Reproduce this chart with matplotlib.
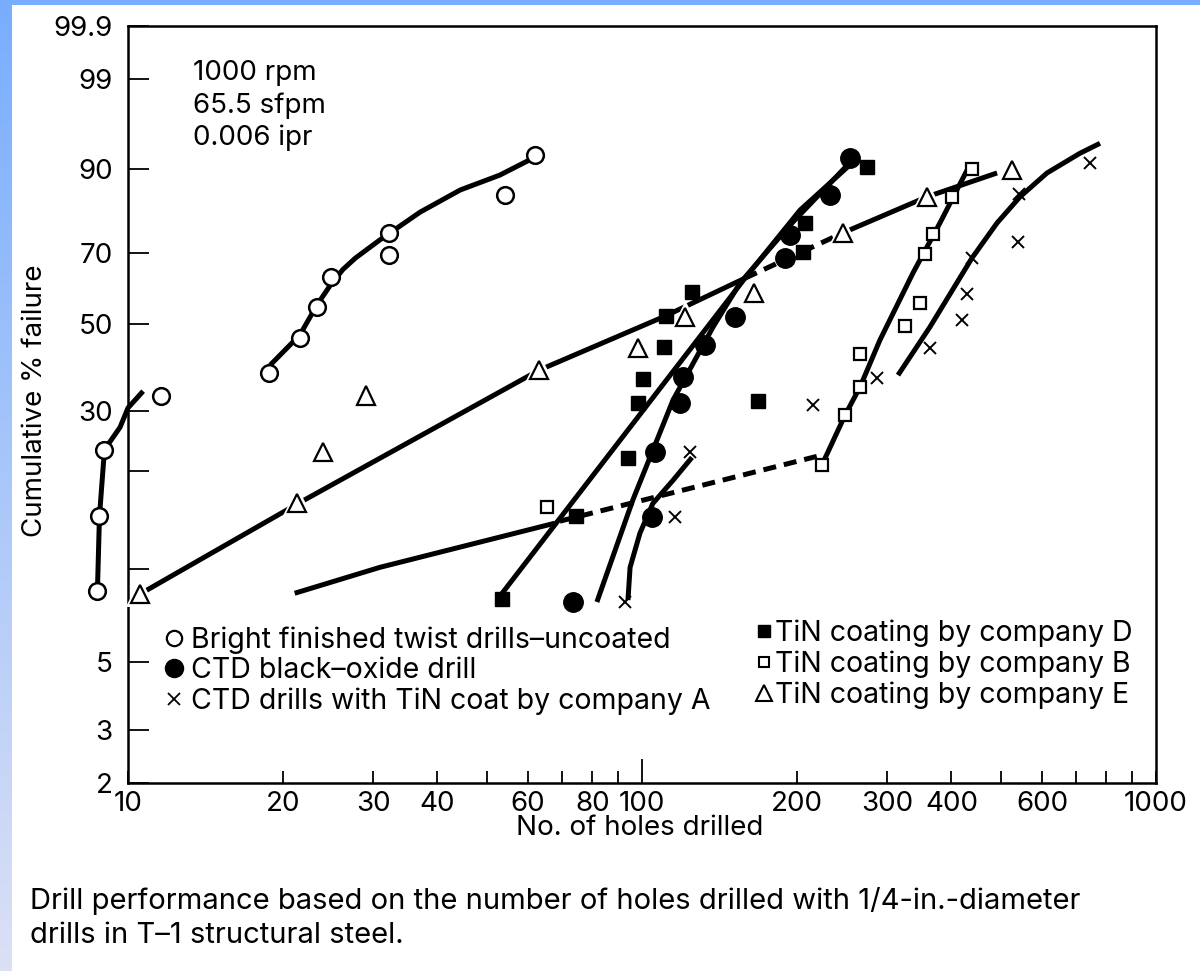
"""
Weibull probability plot of drill life: cumulative % failure against
number of holes drilled for six drill types.
"""

import numpy as np
import matplotlib
matplotlib.use("Agg")
import matplotlib.pyplot as plt
import matplotlib.patheffects as pe
from matplotlib.lines import Line2D
from matplotlib.ticker import FixedLocator, FixedFormatter, NullLocator

plt.rcParams["font.family"] = ["Inter", "DejaVu Sans"]
FS = 20

# ---------------------------------------------------------------------------
# data: holes drilled (x) and cumulative % failure (y)
# ---------------------------------------------------------------------------

# bright finished twist drills, uncoated (open circles)
bright_x = [8.72, 8.80, 9.0, 11.6, 18.8, 21.6, 23.3, 24.8, 32.2, 32.2, 54.1, 61.9]
bright_y = [8.5, 14.6, 23.2, 32.9, 38.0, 46.3, 54.8, 63.2, 75.3, 69.3, 84.7, 92.2]
bright_fit1_x = [8.72, 8.80, 9.0, 9.65, 10.0, 10.7]
bright_fit1_y = [8.5, 14.6, 23.2, 26.9, 30.5, 33.9]
bright_fit2_x = [18.9, 21.6, 23.3, 24.8, 26.2, 27.7, 30.9, 37.0, 44.3, 52.9, 61.9]
bright_fit2_y = [39.7, 47.2, 55.2, 61.0, 65.3, 68.5, 73.5, 80.7, 85.8, 88.8, 91.9]

# CTD black-oxide drill (filled circles)
oxide_x = [73.3, 104.4, 106.0, 118.6, 120.3, 132.6, 151.7, 189.8, 194.1, 232.2, 254.0]
oxide_y = [7.85, 14.5, 22.85, 31.5, 37.0, 44.6, 52.0, 68.4, 74.8, 84.7, 91.7]
oxide_fit_x = [81.7, 96.0, 105.0, 114.9, 137.5, 155.1, 194.1, 259.6]
oxide_fit_y = [7.83, 16.4, 23.1, 32.05, 49.3, 61.4, 77.45, 91.9]

# CTD drills with TiN coat by company A (x)
coA_x = [92.7, 116.0, 124.0, 215.4, 286.1, 363.3, 418.8, 428.2, 437.9, 539.7, 541.4, 744.0]
coA_y = [7.85, 14.5, 22.85, 31.05, 36.7, 43.8, 51.1, 58.3, 68.4, 73.0, 84.9, 90.9]
coA_fit1_x = [93.9, 94.8, 99.1, 105.0, 114.9, 125.1]
coA_fit1_y = [7.94, 10.1, 12.95, 16.0, 18.8, 22.0]
coA_fit2_x = [314.8, 363.3, 438.5, 490.7, 543.8, 613.8, 711.3, 778.2]
coA_fit2_y = [37.4, 49.3, 68.5, 78.0, 84.3, 89.2, 92.5, 93.9]

# TiN coating by company D (filled squares)
coD_x = [53.3, 74.4, 94.0, 98.1, 100.3, 110.5, 111.2, 124.9, 168.4, 206.0, 207.6, 273.6]
coD_y = [8.0, 14.6, 21.85, 31.4, 36.45, 44.2, 52.3, 59.0, 31.9, 70.25, 77.9, 90.3]
coD_fit_x = [52.2, 158.6, 203.0, 259.6]
coD_fit_y = [7.94, 62.8, 81.2, 91.4]

# TiN coating by company B (open squares)
coB_x = [65.3, 223.7, 248.4, 265.0, 265.6, 324.9, 347.4, 355.3, 368.7, 400.6, 437.9]
coB_y = [15.6, 20.9, 29.1, 34.7, 42.5, 49.5, 55.9, 69.6, 75.0, 84.3, 90.0]
coB_low_x = [21.1, 30.9, 67.7]
coB_low_y = [8.35, 10.1, 13.9]
coB_dash_x = [69.2, 220.0]
coB_dash_y = [14.1, 22.2]
coB_fit_x = [223.9, 248.3, 265.6, 290.4, 336.7, 379.9, 428.9]
coB_fit_y = [20.9, 29.1, 34.8, 45.9, 64.3, 78.0, 89.7]

# TiN coating by company E (open triangles)
coE_x = [10.55, 21.3, 24.0, 29.0, 63.1, 98.4, 121.2, 165.2, 246.4, 358.1, 524.0]
coE_y = [8.3, 16.0, 22.85, 33.0, 38.55, 43.8, 52.0, 58.5, 75.3, 84.3, 89.7]
coE_fit_x = [10.55, 21.6, 63.1, 110.9, 158.6]
coE_fit_y = [8.3, 16.1, 38.55, 52.2, 62.8]
coE_dash_x = [158.6, 246.0]
coE_dash_y = [62.8, 75.4]
coE_top_x = [246.0, 358.5, 490.7]
coE_top_y = [75.4, 84.3, 89.2]

x_ticks = [10, 20, 30, 40, 50, 60, 70, 80, 90, 100, 200, 300, 400, 500, 600, 700, 800, 900, 1000]
x_labels = {10: "10", 20: "20", 30: "30", 40: "40", 60: "60", 80: "80", 100: "100",
            200: "200", 300: "300", 400: "400", 600: "600", 1000: "1000"}
y_ticks = [2, 3, 5, 10, 20, 30, 50, 70, 90, 99, 99.9]
y_labels = {2: "2", 3: "3", 5: "5", 30: "30", 50: "50", 70: "70", 90: "90", 99: "99", 99.9: "99.9"}


def weibull(p):
    p = np.clip(np.asarray(p, dtype=float), 1e-6, 100 - 1e-6) / 100.0
    return np.log(-np.log(1.0 - p))


def weibull_inv(w):
    return 100.0 * (1.0 - np.exp(-np.exp(w)))


W, H = 1200, 971
fig = plt.figure(figsize=(W / 100, H / 100), dpi=100)

# slide frame: blue band on top, gradient strip on the left
strip = fig.add_axes([0, 0, 12 / W, 1])
grad = np.linspace(0, 1, 256)[:, None]
top_rgb = np.array([0.47, 0.68, 1.0])
bot_rgb = np.array([0.86, 0.88, 0.96])
strip.imshow(top_rgb + grad[..., None] * (bot_rgb - top_rgb), aspect="auto",
             extent=(0, 1, 0, 1))
strip.set_axis_off()
band = fig.add_axes([0, 1 - 5 / H, 1, 5 / H])
band.set_facecolor(top_rgb)
band.set_xticks([])
band.set_yticks([])
for s in band.spines.values():
    s.set_visible(False)

ax = fig.add_axes([128 / W, 1 - 783 / H, (1156 - 128) / W, (783 - 26) / H])
ax.set_xscale("log")
ax.set_yscale("function", functions=(weibull, weibull_inv))
ax.set_xlim(10, 1000)
ax.set_ylim(2, 99.9)

LW = 3.6
line_kw = dict(color="black", lw=LW, solid_capstyle="butt", solid_joinstyle="round", zorder=2)
dash_kw = dict(color="black", lw=LW, linestyle=(0, (2.6, 1.6)), dash_capstyle="butt", zorder=2)
halo = [pe.withStroke(linewidth=5, foreground="white")]

# fitted curves
ax.plot(bright_fit1_x, bright_fit1_y, clip_on=False, **line_kw)
ax.plot(bright_fit2_x, bright_fit2_y, **line_kw)
ax.plot(oxide_fit_x, oxide_fit_y, **line_kw)
ax.plot(coA_fit1_x, coA_fit1_y, **line_kw)
ax.plot(coA_fit2_x, coA_fit2_y, **line_kw)
ax.plot(coD_fit_x, coD_fit_y, **line_kw)
ax.plot(coB_low_x, coB_low_y, **line_kw)
ax.plot(coB_dash_x, coB_dash_y, **dash_kw)
ax.plot(coB_fit_x, coB_fit_y, **line_kw)
ax.plot(coE_fit_x, coE_fit_y, **line_kw)
ax.plot(coE_dash_x, coE_dash_y, **dash_kw)
ax.plot(coE_top_x, coE_top_y, **line_kw)

# data points
ax.plot(bright_x, bright_y, "o", ms=12, mfc="white", mec="black", mew=1.8,
        clip_on=False, zorder=4)
ax.plot(oxide_x, oxide_y, "o", ms=14, mfc="black", mec="black", zorder=4)
ax.plot(coA_x, coA_y, "x", ms=9, mec="black", mew=1.4, zorder=4)
ax.plot(coD_x, coD_y, "s", ms=10, mfc="black", mec="black", zorder=4)
ax.plot(coB_x, coB_y, "s", ms=9, mfc="white", mec="black", mew=1.6, zorder=4)
ax.plot(coE_x, coE_y, "^", ms=13, mfc="white", mec="black", mew=1.6,
        path_effects=halo, clip_on=False, zorder=4)

# axes styling
for s in ax.spines.values():
    s.set_linewidth(1.8)

ax.xaxis.set_major_locator(FixedLocator(x_ticks))
ax.xaxis.set_major_formatter(FixedFormatter([x_labels.get(t, "") for t in x_ticks]))
ax.xaxis.set_minor_locator(NullLocator())
ax.yaxis.set_major_locator(FixedLocator(y_ticks))
ax.yaxis.set_major_formatter(FixedFormatter([y_labels.get(t, "") for t in y_ticks]))
ax.yaxis.set_minor_locator(NullLocator())
ax.tick_params(axis="x", direction="in", length=9, width=1.3, pad=6,
               labelsize=FS, top=False)
ax.tick_params(axis="y", direction="in", length=15, width=1.3, pad=11,
               labelsize=FS, right=False)
for tick, val in zip(ax.xaxis.get_major_ticks(), x_ticks):
    if val == 100:
        tick.tick1line.set_markersize(17)

ax.text(0.063, 0.955, "1000 rpm\n65.5 sfpm\n0.006 ipr", transform=ax.transAxes,
        ha="left", va="top", fontsize=FS, linespacing=1.3)

# legend, two columns
h_left = [
    Line2D([], [], ls="none", marker="o", ms=11, mfc="white", mec="black", mew=1.6),
    Line2D([], [], ls="none", marker="o", ms=13, mfc="black", mec="black"),
    Line2D([], [], ls="none", marker="x", ms=8, mec="black", mew=1.3),
]
lab_left = ["Bright finished twist drills\u2013uncoated",
            "CTD black\u2013oxide drill",
            "CTD drills with TiN coat by company A"]
h_right = [
    Line2D([], [], ls="none", marker="s", ms=9, mfc="black", mec="black"),
    Line2D([], [], ls="none", marker="s", ms=7, mfc="white", mec="black", mew=1.5),
    Line2D([], [], ls="none", marker="^", ms=11, mfc="white", mec="black", mew=1.5),
]
lab_right = ["TiN coating by company D",
             "TiN coating by company B",
             "TiN coating by company E"]
leg_kw = dict(loc="upper left", frameon=False, fontsize=20.5, handlelength=0.7,
              labelspacing=0.12, borderpad=0, borderaxespad=0)
leg1 = ax.legend(h_left, lab_left, bbox_to_anchor=(0.035, 0.207),
                 handletextpad=0.25, **leg_kw)
ax.add_artist(leg1)
ax.legend(h_right, lab_right, bbox_to_anchor=(0.609, 0.216),
          handletextpad=0.05, **leg_kw)

fig.text(35 / W, 1 - 401 / H, "Cumulative % failure", rotation=90,
         ha="center", va="center", fontsize=FS)
fig.text(640 / W, 1 - 828 / H, "No. of holes drilled", ha="center", va="center",
         fontsize=FS)
fig.text(30 / W, 1 - 901 / H,
         "Drill performance based on the number of holes drilled with 1/4-in.-diameter",
         ha="left", va="center", fontsize=21)
fig.text(30 / W, 1 - 935 / H, "drills in T\u20131 structural steel.",
         ha="left", va="center", fontsize=21)

fig.savefig("out.png", dpi=100)
